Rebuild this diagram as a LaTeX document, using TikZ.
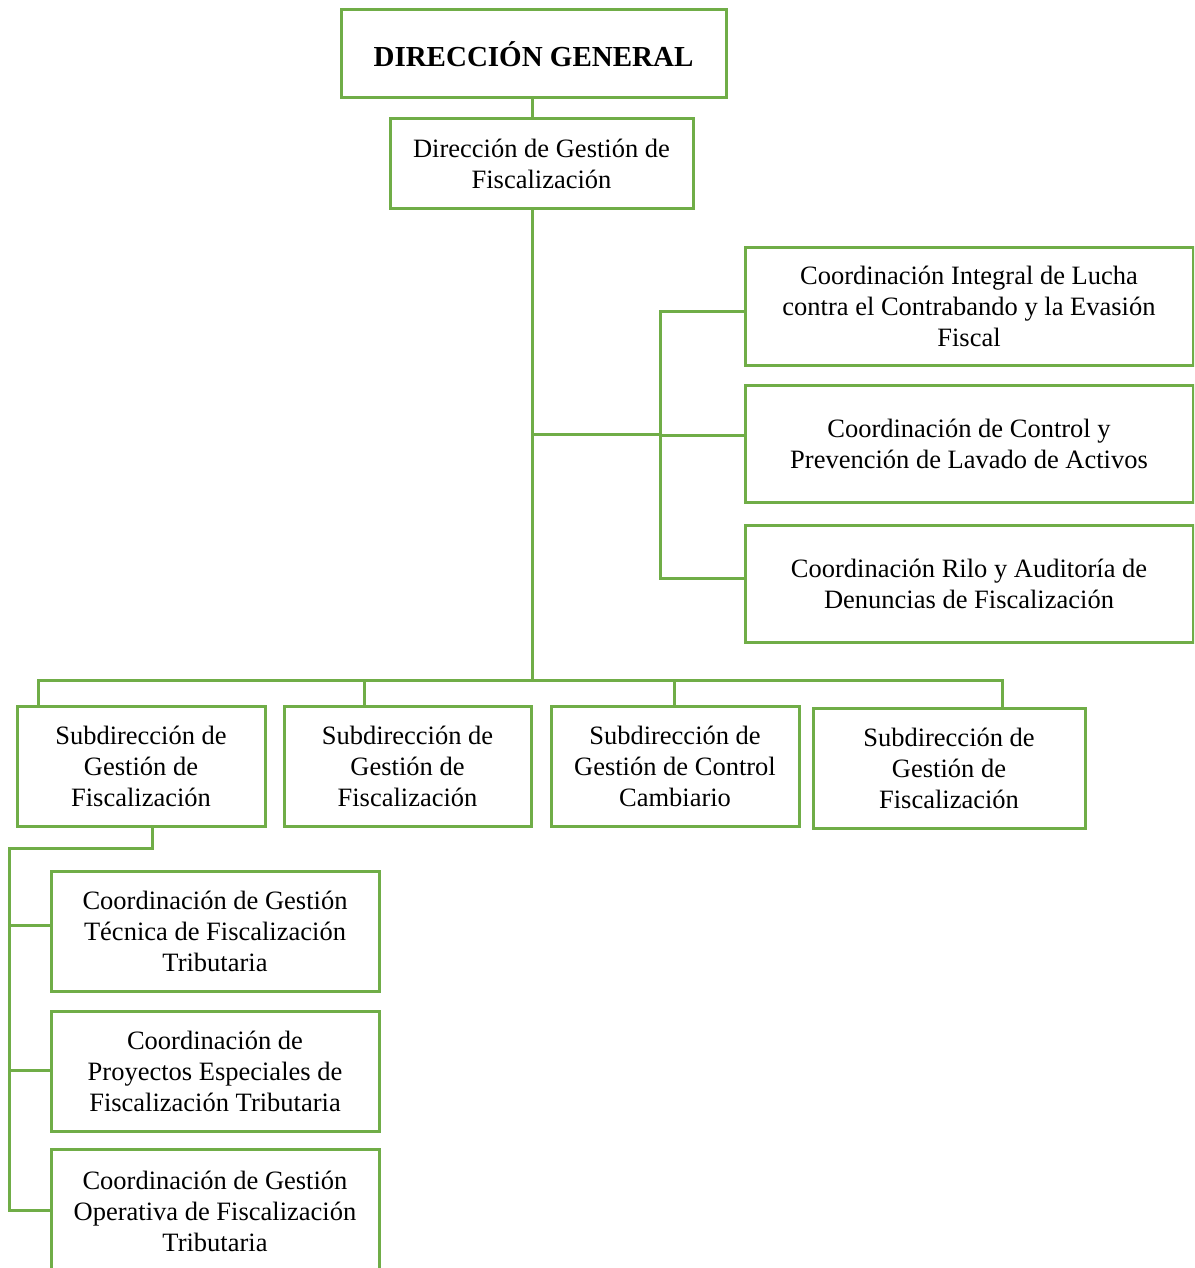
\documentclass[tikz,border=0pt]{standalone}
\usepackage{fontspec}
\setmainfont{Liberation Serif}
\definecolor{orggreen}{HTML}{70AD47}
\begin{document}
\begin{tikzpicture}[x=1pt,y=-1pt,
  box/.style={draw=orggreen,line width=3pt,rectangle,inner sep=0pt,align=center,
    font=\fontsize{26.5}{31}\selectfont},
  link/.style={draw=orggreen,line width=3pt}]
\clip (0,0) rectangle (1194,1268);
\useasboundingbox (0,0) rectangle (1194,1268);
\fill[white] (0,0) rectangle (1194,1268);
% nodes
\node[box,minimum width=385pt,minimum height=88pt,font=\fontsize{29}{34}\selectfont\bfseries] (dg) at (533.5,54) {DIRECCIÓN GENERAL};
\node[box,minimum width=303pt,minimum height=89pt] (dgf) at (541.5,163.5) {Dirección de Gestión de\\Fiscalización};
\node[box,minimum width=448pt,minimum height=118pt] (c1) at (969,306) {Coordinación Integral de Lucha\\contra el Contrabando y la Evasión\\Fiscal};
\node[box,minimum width=448pt,minimum height=117pt] (c2) at (969,443.5) {Coordinación de Control y\\Prevención de Lavado de Activos};
\node[box,minimum width=448pt,minimum height=117pt] (c3) at (969,583.5) {Coordinación Rilo y Auditoría de\\Denuncias de Fiscalización};
\node[box,minimum width=248pt,minimum height=120pt] (s1) at (141,766) {Subdirección de\\Gestión de\\Fiscalización};
\node[box,minimum width=247pt,minimum height=120pt] (s2) at (407.5,766) {Subdirección de\\Gestión de\\Fiscalización};
\node[box,minimum width=248pt,minimum height=120pt] (s3) at (675,766) {Subdirección de\\Gestión de Control\\Cambiario};
\node[box,minimum width=272pt,minimum height=120pt] (s4) at (949,768) {Subdirección de\\Gestión de\\Fiscalización};
\node[box,minimum width=328pt,minimum height=120pt] (k1) at (215,931) {Coordinación de Gestión\\Técnica de Fiscalización\\Tributaria};
\node[box,minimum width=328pt,minimum height=120pt] (k2) at (215,1071) {Coordinación de\\Proyectos Especiales de\\Fiscalización Tributaria};
\node[box,minimum width=328pt,minimum height=125pt] (k3) at (215,1211.5) {Coordinación de Gestión\\Operativa de Fiscalización\\Tributaria};
% helper coordinates
\coordinate (bus) at (532,680);
\coordinate (rb) at (660,434);
\coordinate (bl) at (38,680);
\coordinate (br) at (1002,680);
\coordinate (lt) at (9,848);
% connectors
\draw[link] ([xshift=-1.5pt]dg.south) -- ([xshift=-1.5pt]dg.south |- dgf.north);
\draw[link] (dgf.south -| bus) -- (bus);
\draw[link] (rb -| bus) -- (rb);
\draw[link] ([yshift=-5pt]c1.west) -| ([yshift=5.5pt]c3.west -| rb) -- ([yshift=5.5pt]c3.west);
\draw[link] ([yshift=8.5pt]c2.west -| rb) -- ([yshift=8.5pt]c2.west);
\draw[link] (bl |- s1.north) -- (bl) -- (br) -- (br |- s4.north);
\draw[link] ([xshift=-43.5pt]s2.north) -- ([xshift=-43.5pt]s2.north |- bus);
\draw[link] ([xshift=-1pt]s3.north) -- ([xshift=-1pt]s3.north |- bus);
\draw[link] ([xshift=11pt]s1.south) |- (lt) -- ([yshift=1.5pt]k3.west -| lt) -- ([yshift=1.5pt]k3.west);
\draw[link] ([yshift=6pt]k1.west) -- ([yshift=6pt]k1.west -| lt);
\draw[link] ([yshift=1pt]k2.west) -- ([yshift=1pt]k2.west -| lt);
\end{tikzpicture}
\end{document}
